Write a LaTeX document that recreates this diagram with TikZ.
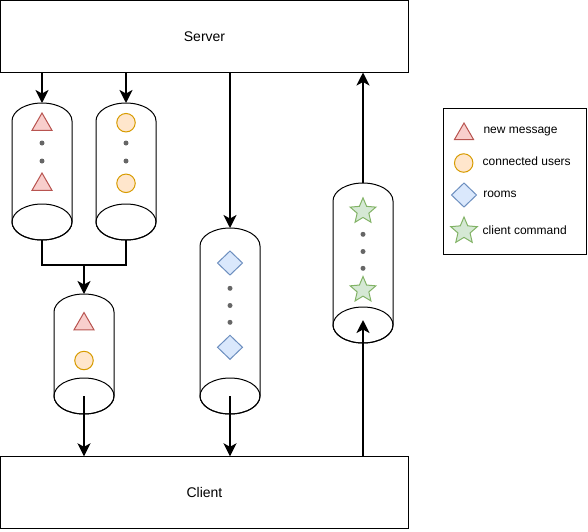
\documentclass[tikz,border=0pt]{standalone}
\usepackage{fontspec}
\setmainfont{Liberation Sans}
\usetikzlibrary{shapes.geometric, arrows.meta, positioning}

\definecolor{msgfill}{HTML}{F8CECC}
\definecolor{msgline}{HTML}{B85450}
\definecolor{userfill}{HTML}{FFE6CC}
\definecolor{userline}{HTML}{D79B00}
\definecolor{roomfill}{HTML}{DAE8FC}
\definecolor{roomline}{HTML}{6C8EBF}
\definecolor{cmdfill}{HTML}{D5E8D4}
\definecolor{cmdline}{HTML}{82B366}
\definecolor{dotgray}{HTML}{666666}

\begin{document}
\begin{tikzpicture}[x=1pt, y=-1pt,
                    every node/.style={inner sep=0pt, outer sep=0pt},
                    endpoint/.style={draw, line width=1pt, minimum width=408pt,
                                     minimum height=72pt, font=\fontsize{14}{17}\selectfont},
                    queue/.style={minimum width=60pt},
                    flow/.style={line width=2pt, -{Stealth[length=13pt, width=13pt, inset=3.5pt]}},
                    msg/.style={regular polygon, regular polygon sides=3, draw=msgline,
                                fill=msgfill, line width=1pt, minimum size=23pt},
                    user/.style={circle, draw=userline, fill=userfill, line width=1pt,
                                 minimum size=18.5pt},
                    room/.style={diamond, draw=roomline, fill=roomfill, line width=1pt,
                                 minimum width=25pt, minimum height=24pt},
                    cmd/.style={star, star points=5, star point ratio=2.2, draw=cmdline,
                                fill=cmdfill, line width=1pt, minimum size=27pt},
                    itemdot/.style={circle, fill=dotgray, minimum size=5pt},
                    legendtext/.style={anchor=west, font=\fontsize{12}{14}\selectfont}]

    \useasboundingbox (0,0) rectangle (588,531);

    % Server and client
    \node[endpoint] (server) at (204.5,36.5) {Server};
    \node[endpoint] (client) at (204.5,492.3) {Client};

    % Queues
    \node[queue, minimum height=137pt] (msgq) at (42,171.5) {};
    \node[queue, minimum height=137pt] (userq) at (126,171.5) {};
    \node[queue, minimum height=120pt] (mergeq) at (84,354) {};
    \node[queue, minimum height=186pt] (roomq) at (230,321) {};
    \node[queue, minimum height=160pt] (cmdq) at (363,263) {};

    % Queue outlines: open arc on top, full ellipse at the bottom
    \foreach \q in {msgq,userq,mergeq,roomq,cmdq}{
        \draw[line width=1pt] ([yshift=-18pt]\q.north west)
            arc[start angle=180, end angle=0, x radius=30pt, y radius=18pt]
            -- ([yshift=18pt]\q.south east)
            arc[start angle=0, end angle=-180, x radius=30pt, y radius=18pt] -- cycle;
        \draw[line width=1pt] ([yshift=18pt]\q.south) ellipse[x radius=30pt, y radius=18pt];
    }

    % Queue contents
    \node[msg] (msg1) at (42,124.5) {};
    \node[msg] (msg2) at (42,184.5) {};
    \foreach \y in {143,161} \node[itemdot] (msgdot\y) at (42,\y) {};

    \node[user] (user1) at (126,122.7) {};
    \node[user] (user2) at (126,183.3) {};
    \foreach \y in {143,161} \node[itemdot] (userdot\y) at (126,\y) {};

    \node[msg] (msg3) at (84,324) {};
    \node[user] (user3) at (84,360.5) {};

    \node[room] (room1) at (230,263) {};
    \node[room] (room2) at (230,347.3) {};
    \foreach \y in {288.3,305.5,322.3} \node[itemdot] (roomdot\y) at (230,\y) {};

    \node[cmd] (cmd1) at (363,211.3) {};
    \node[cmd] (cmd2) at (363,290) {};
    \foreach \y in {234.3,251.5,268.3} \node[itemdot] (cmddot\y) at (363,\y) {};

    % Connectors
    \draw[flow] (msgq.north |- server.south) -- (msgq.north);
    \draw[flow] (userq.north |- server.south) -- (userq.north);
    \draw[flow] (roomq.north |- server.south) -- (roomq.north);
    \draw[flow] (cmdq.north) -- (cmdq.north |- server.south);

    \coordinate (join) at (84,264.5);
    \draw[line width=2pt] (msgq.south) |- (join) -| (userq.south);
    \draw[flow] (join) -- (mergeq.north);

    \draw[flow] ([yshift=18pt]mergeq.south) -- (mergeq.south |- client.north);
    \draw[flow] ([yshift=18pt]roomq.south) -- (roomq.south |- client.north);
    \draw[flow] (cmdq.south |- client.north) -- ([yshift=23pt]cmdq.south);

    % Legend
    \node[draw, line width=1pt, minimum width=143pt, minimum height=146pt] (legend) at (515,181) {};
    \node[msg, minimum size=22pt] (lmsg) at (464,134) {};
    \node[user] (luser) at (463.7,163) {};
    \node[room] (lroom) at (464,195) {};
    \node[cmd, minimum size=28pt] (lcmd) at (464,231) {};
    \node[legendtext] (lmsgtext) at (483.5,131.7) {new message};
    \node[legendtext] (lusertext) at (482.7,161.7) {connected users};
    \node[legendtext] (lroomtext) at (483.3,194.3) {rooms};
    \node[legendtext] (lcmdtext) at (482.7,230) {client command};

\end{tikzpicture}
\end{document}
